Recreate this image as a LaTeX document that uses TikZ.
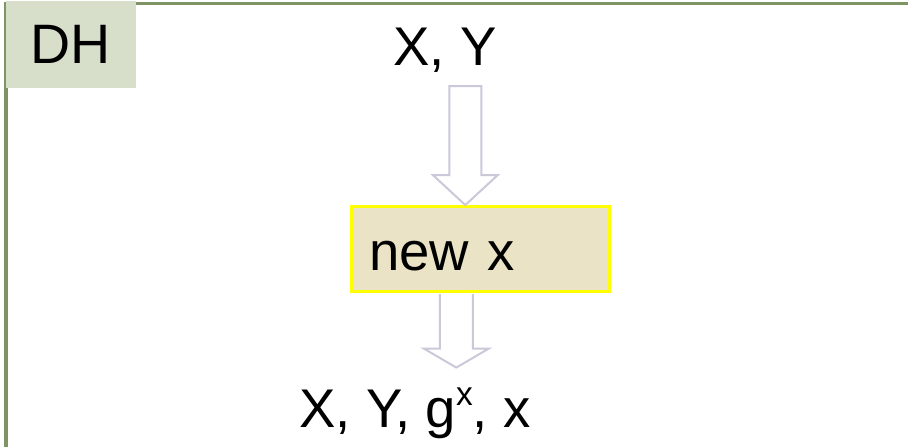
\documentclass[tikz,border=0pt]{standalone}
\usepackage{fontspec}
\setmainfont{Liberation Sans}
\usepackage{tikz}
\usetikzlibrary{
  positioning,
  calc
}
\definecolor{dhframe}{HTML}{7F9464}
\definecolor{dhtag}{HTML}{D7DFCB}
\definecolor{stepfill}{HTML}{EBE3C5}
\definecolor{stepedge}{HTML}{FFFF00}
\definecolor{arrowedge}{HTML}{CCC8DA}

\begin{document}
\begin{tikzpicture}[
  x=0.01cm, y=-0.01cm,
  frameline/.style={
    draw=dhframe, line width=0.03cm
  },
  tagbox/.style={
    rectangle, fill=dhtag, anchor=north west,
    minimum width=1.3cm, minimum height=0.87cm,
    font=\fontsize{15.8}{18}\selectfont, text=black
  },
  stepbox/.style={
    rectangle, draw=stepedge, fill=stepfill, line width=0.025cm,
    anchor=north west, text width=2.22cm, align=left,
    inner xsep=0.18cm, minimum height=0.85cm,
    text height=0.43cm, text depth=0pt,
    font=\fontsize{15.5}{18}\selectfont, text=black
  },
  vals/.style={
    anchor=base, inner sep=0pt,
    font=\fontsize{15.5}{18}\selectfont, text=black
  },
  blockarr/.style={
    draw=arrowedge, fill=white, line width=0.02cm, line join=miter
  }
]
\useasboundingbox (0,0) rectangle (908,447);

% frame and tag
\draw[frameline] (6,447) -- (6,3) -- (908,3);
\node[tagbox] (dh) at (5,0) {DH};

% values and step
\node[vals] (xy) at (445,65) {X, Y};
\node[stepbox] (newx) at (350,205) {new x};
\node[vals] (out) at (415,427)
  {X, Y, g\raisebox{6pt}{\fontsize{9.5}{11}\selectfont x}, x};

% hollow arrows
\draw[blockarr] ($(newx.north)+(-15,0)$) -- ++(-32.5,-30) -- ++(16.5,0)
  -- ++(0,-89) -- ++(32,0) -- ++(0,89) -- ++(16.5,0) -- cycle;
\draw[blockarr] ($(newx.south)+(-40.5,1.5)$) -- ++(0,54.5) -- ++(-16,0)
  -- ++(32.5,19) -- ++(32.5,-19) -- ++(-16,0) -- ++(0,-54.5);

\end{tikzpicture}
\end{document}
